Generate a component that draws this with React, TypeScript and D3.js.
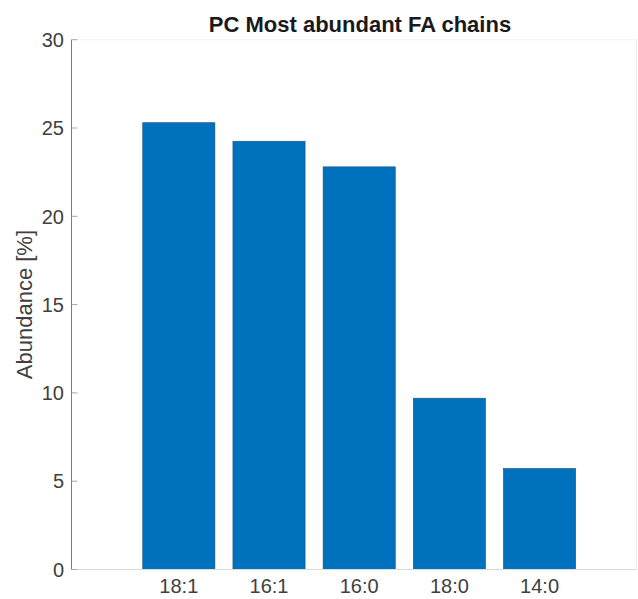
import React from "react";
import * as d3 from "d3";

const categories = ["18:1", "16:1", "16:0", "18:0", "14:0"];
const abundance = [25.3, 24.25, 22.8, 9.7, 5.72];
const yTicks = [0, 5, 10, 15, 20, 25, 30];
const title = "PC Most abundant FA chains";
const yLabel = "Abundance [%]";

const W = 638;
const H = 599;
const left = 71.5;
const right = 636.5;
const top = 39.7;
const bottom = 569.5;

export default function App() {
  const x = d3.scaleLinear().domain([-0.19, 6.075]).range([left, right]);
  const y = d3.scaleLinear().domain([0, 30]).range([bottom, top]);
  const bw = (x(1) - x(0)) * 0.8;
  const font = "'Liberation Sans', Arial, Helvetica, sans-serif";
  return (
    <div style={{ position: "absolute", left: 0, top: 0 }}>
      <svg width={W} height={H} style={{ display: "block", background: "#fff" }}>
        {/* box */}
        <line x1={left} x2={right} y1={top} y2={top} stroke="#f4f4f4" strokeWidth={1} />
        <line x1={right} x2={right} y1={top} y2={bottom} stroke="#ececec" strokeWidth={1} />
        {/* bars */}
        {abundance.map((v, i) => (
          <rect
            key={categories[i]}
            x={x(i + 1) - bw / 2}
            y={y(v)}
            width={bw}
            height={y(0) - y(v)}
            fill="#0072BD"
            stroke="#1c4f7a"
            strokeWidth={0.6}
          />
        ))}
        {/* axes */}
        <line x1={left} x2={right} y1={bottom} y2={bottom} stroke="#dcdcdc" strokeWidth={1} />
        <line x1={left} x2={left} y1={top} y2={bottom} stroke="#7a7a7a" strokeWidth={1} />
        {yTicks.map((t) => (
          <g key={t}>
            <line x1={left} x2={left + 6} y1={y(t)} y2={y(t)} stroke="#a8a8a8" strokeWidth={1} />
            <text
              x={64}
              y={y(t)}
              dy="0.36em"
              textAnchor="end"
              fontFamily={font}
              fontSize={20}
              fill="#404040"
            >
              {t}
            </text>
          </g>
        ))}
        {categories.map((c, i) => (
          <text
            key={c}
            x={x(i + 1)}
            y={593}
            textAnchor="middle"
            fontFamily={font}
            fontSize={20}
            fill="#404040"
          >
            {c}
          </text>
        ))}
        <text
          transform={`translate(32, ${(top + bottom) / 2}) rotate(-90)`}
          textAnchor="middle"
          fontFamily={font}
          fontSize={22}
          fill="#404040"
        >
          {yLabel}
        </text>
        <text
          x={(left + right) / 2 + 6}
          y={32}
          textAnchor="middle"
          fontFamily={font}
          fontSize={22}
          fontWeight="bold"
          fill="#1a1a1a"
        >
          {title}
        </text>
      </svg>
    </div>
  );
}
